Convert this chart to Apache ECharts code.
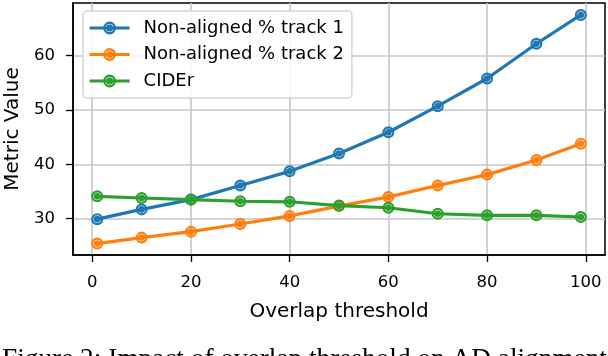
<!DOCTYPE html>
<html>
<head>
<meta charset="utf-8">
<script src="https://cdn.jsdelivr.net/npm/echarts@6/dist/echarts.min.js"></script>
<style>html,body{margin:0;padding:0;background:#fff;}#c{width:608px;height:356px;}</style>
</head>
<body>
<div id="c"></div>
<script>
const thresholds = [1, 10, 20, 30, 40, 50, 60, 70, 80, 90, 99];
const track1 = [29.9, 31.7, 33.5, 36.1, 38.7, 42.0, 45.9, 50.7, 55.8, 62.2, 67.5];
const track2 = [25.4, 26.5, 27.6, 29.0, 30.5, 32.3, 34.0, 36.1, 38.1, 40.8, 43.8];
const cider = [34.1, 33.8, 33.5, 33.2, 33.1, 32.4, 32.0, 30.9, 30.6, 30.6, 30.3];
const xTicks = [0, 20, 40, 60, 80, 100];
const yTicks = [30, 40, 50, 60];
const seriesNames = ['Non-aligned % track 1', 'Non-aligned % track 2', 'CIDEr'];
const colors = ['#1f77b4', '#ff7f0e', '#2ca02c'];
const caption = 'Figure 2: Impact of overlap threshold on AD alignment';

const FONT = 'DejaVu Sans';
const markerPath = 'path://M0,12 A12,12 0 1,0 24,12 A12,12 0 1,0 0,12 Z ' +
  'M4.4,12 A7.6,7.6 0 1,1 19.6,12 A7.6,7.6 0 1,1 4.4,12 Z ' +
  'M5.4,12 A6.6,6.6 0 1,0 18.6,12 A6.6,6.6 0 1,0 5.4,12 Z';

function pairs(vals) { return thresholds.map((t, i) => [t, vals[i]]); }

const chart = echarts.init(document.getElementById('c'), null, {renderer: 'canvas'});
const allSeries = [track1, track2, cider];
chart.setOption({
  animation: false,
  color: colors,
  grid: {left: 73, right: 3, top: 3, bottom: 101, containLabel: false, outerBoundsMode: 'none',
         show: true, borderColor: '#000', borderWidth: 1.5, backgroundColor: 'transparent'},
  xAxis: {
    type: 'value', min: -3.9, max: 103.9,
    name: 'Overlap threshold', nameLocation: 'middle', nameGap: 47,
    nameTextStyle: {fontFamily: FONT, fontSize: 20, color: '#000'},
    axisLine: {show: true, onZero: false, lineStyle: {color: '#000', width: 1.5}},
    axisTick: {show: true, length: 7, lineStyle: {color: '#000', width: 1.3}, customValues: xTicks},
    axisLabel: {fontFamily: FONT, fontSize: 16.5, color: '#000', margin: 19, customValues: xTicks},
    splitLine: {show: true, lineStyle: {color: '#c6c6c6', width: 1.6}}
  },
  yAxis: {
    type: 'value', min: 23.3, max: 69.7,
    name: 'Metric Value', nameLocation: 'middle', nameGap: 50, nameRotate: 90,
    nameTextStyle: {fontFamily: FONT, fontSize: 20, color: '#000'},
    axisLine: {show: true, onZero: false, lineStyle: {color: '#000', width: 1.5}},
    axisTick: {show: true, length: 7, lineStyle: {color: '#000', width: 1.3}, customValues: yTicks},
    axisLabel: {fontFamily: FONT, fontSize: 16.5, color: '#000', margin: 18, customValues: yTicks},
    splitLine: {show: true, lineStyle: {color: '#c6c6c6', width: 1.6}}
  },
  legend: {
    orient: 'vertical', left: 83, top: 11,
    padding: [7, 8, 7, 5],
    itemWidth: 40, itemHeight: 16, itemGap: 6.5,
    borderColor: '#d4d4d4', borderWidth: 1.5, borderRadius: 4,
    backgroundColor: 'rgba(255,255,255,0.85)',
    lineStyle: {width: 3.2},
    textStyle: {fontFamily: FONT, fontSize: 18, color: '#000', lineHeight: 20, padding: [0, 0, 0, 9]},
    data: seriesNames
  },
  series: seriesNames.map((n, i) => ({
    name: n, type: 'line', data: pairs(allSeries[i]),
    symbol: markerPath, symbolSize: 12, showAllSymbol: true,
    lineStyle: {width: 3.2, color: colors[i]},
    itemStyle: {color: colors[i]},
    z: 2 + i
  })),
  graphic: [{
    type: 'text', left: 2, top: 346,
    style: {text: caption, fontFamily: 'Liberation Serif', fontSize: 27.3, fill: '#000'}
  }]
});
</script>
</body>
</html>
